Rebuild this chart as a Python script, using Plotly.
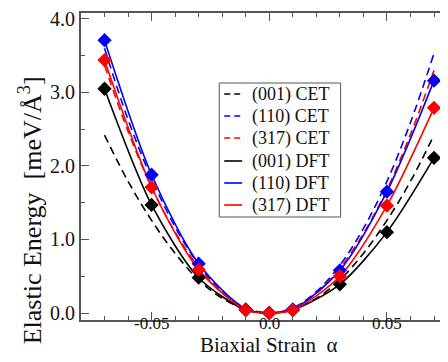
import plotly.graph_objects as go

# strain values (DFT points)
alpha = [-0.07, -0.05, -0.03, -0.01, 0.0, 0.01, 0.03, 0.05, 0.07]
dft_001 = [3.05, 1.47, 0.48, 0.04, 0.0, 0.04, 0.39, 1.10, 2.11]
dft_110 = [3.71, 1.88, 0.67, 0.05, 0.0, 0.05, 0.58, 1.65, 3.16]
dft_317 = [3.44, 1.71, 0.59, 0.04, 0.0, 0.04, 0.50, 1.46, 2.79]

# CET curves read at regular strains
alpha_cet = [-0.07, -0.06, -0.05, -0.04, -0.03, -0.02, -0.01, 0.0,
             0.01, 0.02, 0.03, 0.04, 0.05, 0.06, 0.07]
cet_001 = [2.42, 1.79, 1.26, 0.81, 0.45, 0.20, 0.05, 0.0,
           0.05, 0.20, 0.45, 0.81, 1.26, 1.79, 2.42]
cet_110 = [3.60, 2.63, 1.83, 1.17, 0.66, 0.29, 0.07, 0.0,
           0.07, 0.29, 0.65, 1.15, 1.79, 2.59, 3.53]
cet_317 = [3.37, 2.47, 1.71, 1.10, 0.62, 0.27, 0.07, 0.0,
           0.07, 0.27, 0.61, 1.08, 1.68, 2.43, 3.30]

legend_labels = ["(001) CET", "(110) CET", "(317) CET", "(001) DFT", "(110) DFT", "(317) DFT"]

xticks = [-0.05, 0.0, 0.05]
xticklabels = ["-0.05", "0.0", "0.05"]
yticks = [0, 1, 2, 3, 4]
yticklabels = ["0.0", "1.0", "2.0", "3.0", "4.0"]

BLACK, BLUE, RED = "#000000", "#0000ff", "#ff0000"
FONT = "Liberation Serif"
TXT = "#111111"
AX = "#555555"

W, H = 448, 362
L, R, T, B = 73, 0, 5, 50
PW, PH = W - L - R, H - T - B


def px(xp):
    return (xp - L) / PW


def py(yp):
    return (H - B - yp) / PH


fig = go.Figure()
dash = "8px,5px"
cet = [(cet_001, BLACK), (cet_110, BLUE), (cet_317, RED)]
dft = [(dft_001, BLACK), (dft_110, BLUE), (dft_317, RED)]
for i, (y, c) in enumerate(cet):
    fig.add_trace(go.Scatter(x=alpha_cet, y=y, mode="lines", name=legend_labels[i], showlegend=False,
                             line=dict(color=c, width=1.6, dash=dash, shape="spline")))
for i, (y, c) in enumerate(dft):
    fig.add_trace(go.Scatter(x=alpha, y=y, mode="lines", name=legend_labels[3 + i], showlegend=False,
                             line=dict(color=c, width=1.6, shape="spline", smoothing=0.8)))
for y, c in dft:
    fig.add_trace(go.Scatter(x=alpha, y=y, mode="markers", showlegend=False,
                             marker=dict(symbol="diamond", size=11, color=c)))

axis_common = dict(showgrid=False, zeroline=False, showline=True, linecolor=AX,
                   linewidth=1.5, ticks="inside", mirror="allticks", tickcolor=AX,
                   tickwidth=1.2, ticklen=8, showticklabels=False)

fig.update_xaxes(range=[-0.08, 0.0785], tickvals=xticks,
                 minor=dict(dtick=0.01, tick0=0, ticks="inside", ticklen=4, tickcolor=AX),
                 **axis_common)
fig.update_yaxes(range=[-0.095, 4.08], tickvals=yticks,
                 minor=dict(dtick=0.5, tick0=0, ticks="inside", ticklen=4, tickcolor=AX),
                 **axis_common)

# tick labels placed at the tick values
for v, t in zip(xticks, xticklabels):
    fig.add_annotation(text=t, xref="x", yref="paper", x=v, y=py(315),
                       xanchor="center", yanchor="middle", showarrow=False, borderpad=0,
                       font=dict(family=FONT, size=17, color=TXT))
for v, t in zip(yticks, yticklabels):
    fig.add_annotation(text=t, xref="paper", yref="y", x=px(68), y=v,
                       xanchor="right", yanchor="middle", showarrow=False, borderpad=0,
                       font=dict(family=FONT, size=20, color=TXT))

# axis titles
fig.add_annotation(text="Biaxial Strain  α", xref="paper", yref="paper",
                   x=px(262), y=py(337), xanchor="center", yanchor="middle", showarrow=False,
                   borderpad=0, font=dict(family=FONT, size=21, color=TXT))
fig.add_annotation(text="Elastic Energy  [meV/Å<sup>3</sup>]", xref="paper", yref="paper",
                   x=px(22), y=py(202), xanchor="center", yanchor="middle", showarrow=False,
                   borderpad=0, textangle=-90, font=dict(family=FONT, size=26, color=TXT))

# hand-drawn legend box
box_l, box_r, box_t, box_b = 212, 334, 75, 209
fig.add_shape(type="rect", xref="paper", yref="paper",
              x0=px(box_l), x1=px(box_r), y0=py(box_b), y1=py(box_t),
              line=dict(color=AX, width=1), fillcolor="white", layer="above")
row_y = [86, 108, 130, 153, 175, 197]
styles = [(BLACK, "dash"), (BLUE, "dash"), (RED, "dash"), (BLACK, "solid"), (BLUE, "solid"), (RED, "solid")]
for lab, yy, (c, d) in zip(legend_labels, row_y, styles):
    fig.add_shape(type="line", xref="paper", yref="paper",
                  x0=px(217), x1=px(235), y0=py(yy), y1=py(yy), layer="above",
                  line=dict(color=c, width=1.6, dash="6px,4px" if d == "dash" else "solid"))
    fig.add_annotation(text=lab, xref="paper", yref="paper", x=px(244), y=py(yy),
                       xanchor="left", yanchor="middle", showarrow=False, borderpad=0,
                       font=dict(family=FONT, size=18, color=TXT))

fig.update_layout(
    width=W, height=H,
    margin=dict(l=L, r=R, t=T, b=B),
    font=dict(family=FONT, color=TXT),
    plot_bgcolor="white", paper_bgcolor="white",
    showlegend=False,
)

fig.write_html("out.html")
